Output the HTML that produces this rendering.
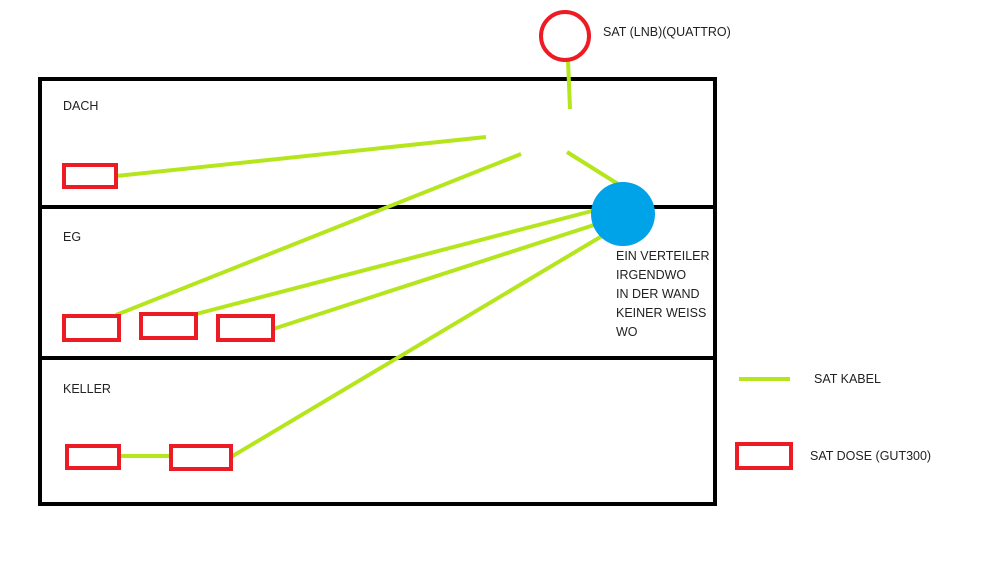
<!DOCTYPE html>
<html><head><meta charset="utf-8"><style>
html,body{margin:0;padding:0;background:#fff;width:1000px;height:562px;overflow:hidden}
svg text{font-family:"Liberation Sans",sans-serif;font-size:12.5px;fill:#222}
</style></head><body>
<svg width="1000" height="562" viewBox="0 0 1000 562" xmlns="http://www.w3.org/2000/svg">
<rect x="0" y="0" width="1000" height="562" fill="#fff"/>
<g stroke="#000" stroke-width="4" fill="none">
<rect x="40" y="79" width="675" height="425"/>
<line x1="40" y1="207" x2="715" y2="207"/>
<line x1="40" y1="358" x2="715" y2="358"/>
</g>
<g stroke="#b5e61d" stroke-width="4" stroke-linecap="butt">
<line x1="568" y1="60" x2="570" y2="109"/>
<line x1="567" y1="152" x2="618" y2="184"/>
<line x1="116" y1="176" x2="486" y2="137"/>
<line x1="116" y1="315" x2="521" y2="154"/>
<line x1="196" y1="314" x2="592" y2="211"/>
<line x1="273" y1="329" x2="594" y2="225"/>
<line x1="231" y1="457" x2="602" y2="236"/>
<line x1="119" y1="456" x2="171" y2="456"/>
<line x1="739" y1="379" x2="790" y2="379"/>
</g>
<circle cx="623" cy="214" r="32" fill="#00a2e8"/>
<circle cx="565" cy="36" r="24" fill="none" stroke="#ed1c24" stroke-width="4"/>
<g stroke="#ed1c24" stroke-width="4" fill="none">
<rect x="64" y="165" width="52" height="22"/>
<rect x="64" y="316" width="55" height="24"/>
<rect x="141" y="314" width="55" height="24"/>
<rect x="218" y="316" width="55" height="24"/>
<rect x="67" y="446" width="52" height="22"/>
<rect x="171" y="446" width="60" height="23"/>
<rect x="737" y="444" width="54" height="24"/>
</g>
<text x="63" y="110">DACH</text>
<text x="63" y="241">EG</text>
<text x="63" y="393">KELLER</text>
<text x="603" y="36">SAT (LNB)(QUATTRO)</text>
<text x="616" y="260">EIN VERTEILER</text>
<text x="616" y="279">IRGENDWO</text>
<text x="616" y="298">IN DER WAND</text>
<text x="616" y="317">KEINER WEISS</text>
<text x="616" y="336">WO</text>
<text x="814" y="383">SAT KABEL</text>
<text x="810" y="460">SAT DOSE (GUT300)</text>
</svg>
</body></html>
